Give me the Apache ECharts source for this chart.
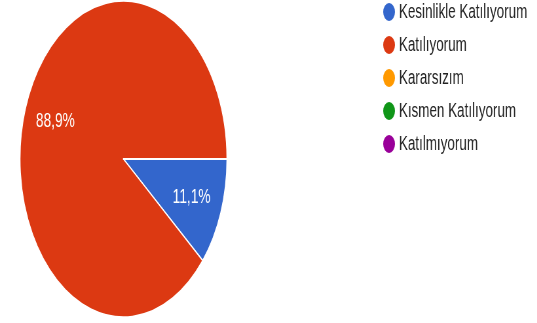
<!DOCTYPE html>
<html>
<head>
<meta charset="utf-8">
<script src="https://cdn.jsdelivr.net/npm/echarts@6/dist/echarts.min.js"></script>
<style>
  html, body { margin: 0; padding: 0; background: #fff; overflow: hidden; }
  /* the reference is squeezed horizontally, so draw wide and squash */
  #chart { width: 820px; height: 323px; transform: scaleX(0.655); transform-origin: 0 0; }
</style>
</head>
<body>
<div id="chart"></div>
<script>
const categories = ['Kesinlikle Katılıyorum', 'Katılıyorum', 'Kararsızım', 'Kısmen Katılıyorum', 'Katılmıyorum']
const counts = [1, 8, 0, 0, 0]
const colors = ['#3366cc', '#dc3912', '#ff9900', '#109618', '#990099']

const cx = 188.5
const cy = 159
const chart = echarts.init(document.getElementById('chart'))

chart.setOption({
  animation: false,
  color: colors,
  legend: {
    orient: 'vertical',
    left: 583,
    top: 1,
    padding: 0,
    icon: 'circle',
    itemWidth: 20,
    itemHeight: 20,
    itemGap: 11,
    textStyle: {
      fontFamily: 'Arial, Liberation Sans, sans-serif',
      fontSize: 20.5,
      lineHeight: 20,
      color: '#222'
    },
    data: categories
  },
  series: [
    {
      type: 'pie',
      center: [cx, cy],
      radius: 158,
      startAngle: 0,
      clockwise: true,
      itemStyle: {
        borderColor: '#fff',
        borderWidth: 1.5
      },
      label: {
        position: 'inside',
        color: '#fff',
        fontFamily: 'Arial, Liberation Sans, sans-serif',
        fontSize: 21,
        formatter: p => p.value ? p.percent.toFixed(1).replace('.', ',') + '%' : ''
      },
      // push labels a bit further out than ECharts' default half radius
      labelLayout: params => {
        const r = params.labelRect
        const lx = r.x + r.width / 2
        const ly = r.y + r.height / 2
        return { dx: (lx - cx) * 0.35, dy: (ly - cy) * 0.35 }
      },
      labelLine: { show: false },
      data: categories.map((name, i) => ({ name: name, value: counts[i] }))
    }
  ]
})
</script>
</body>
</html>
